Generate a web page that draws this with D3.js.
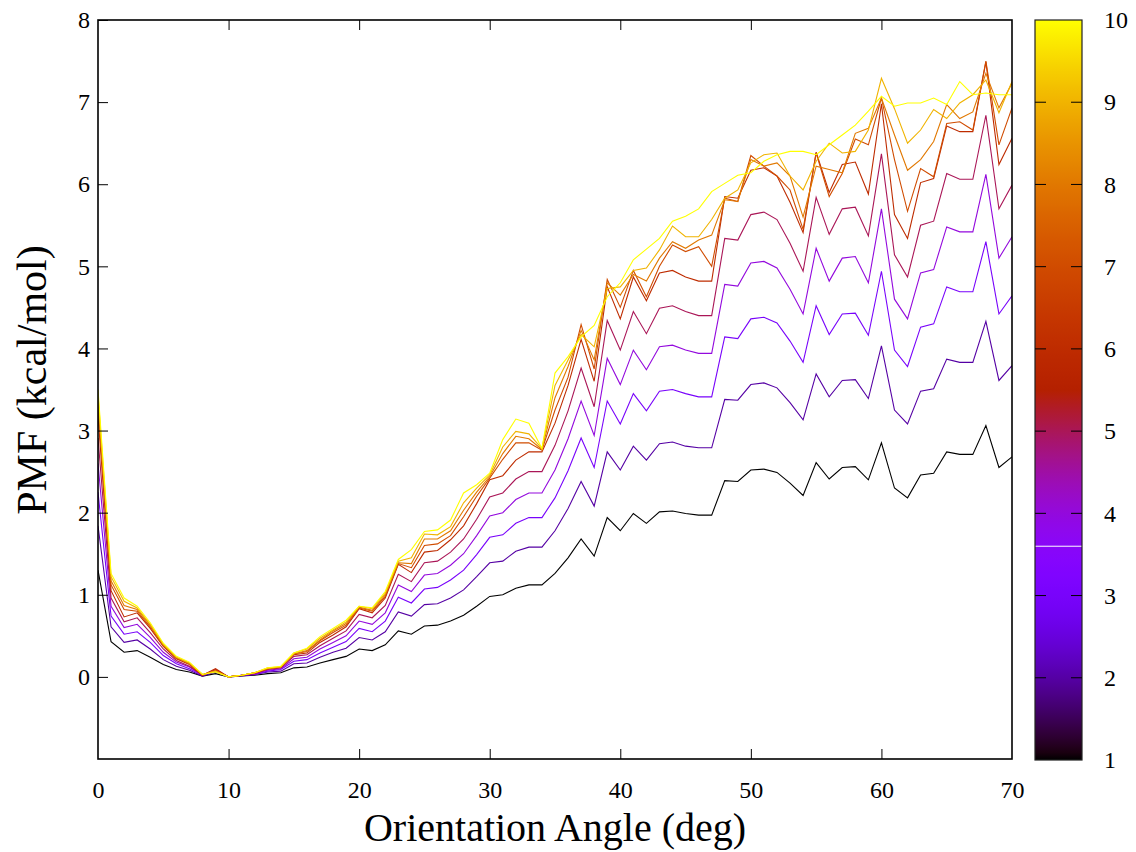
<!DOCTYPE html>
<html>
<head>
<meta charset="utf-8">
<script src="https://cdn.jsdelivr.net/npm/d3@7"></script>
<style>
html,body{margin:0;padding:0;background:#fff;}
svg{display:block;}
text{font-family:"Liberation Serif","Times New Roman",serif;fill:#000;}
</style>
</head>
<body>
<svg id="chart" width="1136" height="852"></svg>
<script>
// ---------------- data ----------------
const angles = [0,1,2,3,4,5,6,7,8,9,10,11,12,13,14,15,16,17,18,19,20,21,22,23,24,25,26,27,28,29,30,31,32,33,34,35,36,37,38,39,40,41,42,43,44,45,46,47,48,49,50,51,52,53,54,55,56,57,58,59,60,61,62,63,64,65,66,67,68,69,70];

const pmf1 = [1.30,0.43,0.30,0.32,0.24,0.15,0.09,0.06,0.01,0.04,0.00,0.01,0.02,0.04,0.05,0.11,0.12,0.17,0.21,0.25,0.34,0.32,0.39,0.56,0.52,0.62,0.63,0.68,0.75,0.86,0.98,1.00,1.08,1.12,1.12,1.26,1.45,1.68,1.47,1.94,1.78,1.99,1.87,2.01,2.02,1.99,1.97,1.97,2.39,2.38,2.52,2.53,2.49,2.36,2.21,2.61,2.41,2.55,2.56,2.40,2.85,2.30,2.18,2.46,2.48,2.74,2.71,2.71,3.06,2.55,2.68];
const pmf2 = [1.84,0.61,0.42,0.45,0.34,0.21,0.13,0.08,0.01,0.06,0.00,0.01,0.03,0.06,0.07,0.16,0.17,0.24,0.30,0.35,0.48,0.45,0.55,0.79,0.74,0.88,0.89,0.96,1.06,1.22,1.39,1.41,1.53,1.58,1.58,1.78,2.05,2.38,2.08,2.74,2.52,2.81,2.64,2.84,2.86,2.81,2.79,2.79,3.38,3.37,3.56,3.58,3.52,3.34,3.13,3.69,3.41,3.61,3.62,3.39,4.03,3.25,3.08,3.48,3.51,3.87,3.83,3.83,4.33,3.61,3.79];
const pmf3 = [2.25,0.74,0.52,0.55,0.42,0.26,0.16,0.10,0.02,0.07,0.00,0.02,0.03,0.07,0.09,0.19,0.21,0.29,0.36,0.43,0.59,0.55,0.68,0.97,0.90,1.07,1.09,1.18,1.30,1.49,1.70,1.73,1.87,1.94,1.94,2.18,2.51,2.91,2.55,3.36,3.08,3.45,3.24,3.48,3.50,3.45,3.41,3.41,4.14,4.12,4.36,4.38,4.31,4.09,3.83,4.52,4.17,4.42,4.43,4.16,4.94,3.98,3.78,4.26,4.30,4.75,4.69,4.69,5.30,4.42,4.64];
const pmf4 = [2.60,0.86,0.60,0.64,0.48,0.30,0.18,0.12,0.02,0.08,0.00,0.02,0.04,0.08,0.10,0.22,0.24,0.34,0.42,0.50,0.68,0.64,0.78,1.12,1.04,1.24,1.26,1.36,1.50,1.72,1.96,2.00,2.16,2.24,2.24,2.52,2.90,3.36,2.94,3.88,3.56,3.98,3.74,4.02,4.04,3.98,3.94,3.94,4.78,4.76,5.04,5.06,4.98,4.72,4.42,5.22,4.82,5.10,5.12,4.80,5.70,4.60,4.36,4.92,4.96,5.48,5.42,5.42,6.12,5.10,5.36];
const pmf5 = [2.91,0.96,0.67,0.72,0.54,0.34,0.20,0.13,0.02,0.09,0.00,0.02,0.04,0.09,0.11,0.25,0.27,0.38,0.47,0.56,0.76,0.72,0.87,1.25,1.16,1.39,1.41,1.52,1.68,1.92,2.19,2.24,2.41,2.50,2.50,2.82,3.24,3.76,3.29,4.34,3.98,4.45,4.18,4.49,4.52,4.45,4.40,4.40,5.34,5.32,5.63,5.66,5.57,5.28,4.94,5.84,5.39,5.70,5.72,5.37,6.37,5.14,4.87,5.50,5.55,6.13,6.06,6.06,6.84,5.70,5.99];
const pmf6 = [3.18,1.05,0.73,0.78,0.59,0.37,0.22,0.15,0.02,0.10,0.00,0.02,0.05,0.10,0.12,0.27,0.29,0.42,0.51,0.61,0.83,0.78,0.96,1.37,1.27,1.52,1.54,1.67,1.84,2.11,2.40,2.45,2.64,2.74,2.74,3.09,3.55,4.11,3.60,4.75,4.36,4.87,4.58,4.92,4.95,4.87,4.82,4.82,5.85,5.83,6.17,6.20,6.10,5.78,5.41,6.39,5.90,6.24,6.27,5.88,6.98,5.63,5.34,6.02,6.07,6.71,6.64,6.64,7.49,6.24,6.56];
const pmf7 = [3.30,1.12,0.82,0.80,0.61,0.38,0.23,0.16,0.02,0.08,0.00,0.02,0.05,0.10,0.12,0.28,0.31,0.44,0.54,0.63,0.84,0.80,0.98,1.38,1.33,1.60,1.62,1.72,1.95,2.20,2.42,2.65,2.85,2.85,2.76,3.25,3.65,4.29,3.75,4.84,4.50,4.95,4.63,5.00,5.26,5.18,5.24,5.00,5.83,5.79,6.35,6.22,6.10,5.93,5.45,6.38,5.85,6.13,6.55,6.48,7.05,6.30,5.67,6.19,6.09,6.74,6.76,6.66,7.50,6.48,6.93];
const pmf8 = [3.38,1.17,0.87,0.82,0.63,0.39,0.24,0.16,0.03,0.07,0.00,0.02,0.05,0.10,0.12,0.28,0.32,0.45,0.56,0.65,0.85,0.81,1.00,1.39,1.38,1.68,1.68,1.78,2.03,2.25,2.44,2.72,2.93,2.90,2.77,3.40,3.78,4.22,3.86,4.80,4.65,4.90,4.82,5.10,5.30,5.22,5.32,5.38,5.81,5.79,6.30,6.22,6.26,6.10,5.60,6.22,6.18,6.14,6.62,6.68,7.05,6.60,6.17,6.30,6.52,6.97,6.80,6.88,7.35,6.93,7.23];
const pmf9 = [3.44,1.22,0.92,0.84,0.64,0.40,0.24,0.17,0.03,0.07,0.00,0.02,0.05,0.11,0.12,0.29,0.34,0.47,0.57,0.67,0.86,0.83,1.02,1.41,1.45,1.74,1.73,1.83,2.12,2.30,2.46,2.80,2.99,2.96,2.78,3.55,3.86,4.17,4.02,4.73,4.75,4.95,4.98,5.20,5.49,5.36,5.36,5.57,5.83,5.93,6.26,6.36,6.38,6.10,5.93,6.28,6.50,6.38,6.40,6.66,7.29,6.92,6.50,6.66,6.91,6.80,6.99,7.09,7.27,6.87,7.25];
const pmf10 = [3.50,1.26,0.96,0.86,0.66,0.41,0.25,0.18,0.03,0.06,0.00,0.02,0.05,0.11,0.13,0.29,0.35,0.49,0.59,0.69,0.86,0.84,1.04,1.43,1.55,1.77,1.79,1.91,2.24,2.34,2.48,2.89,3.14,3.09,2.78,3.70,3.90,4.14,4.28,4.63,4.80,5.08,5.21,5.34,5.55,5.61,5.70,5.91,6.01,6.11,6.14,6.28,6.36,6.40,6.40,6.36,6.48,6.60,6.72,6.89,7.07,6.95,6.99,6.99,7.05,6.97,7.25,7.09,7.11,7.09,7.09];

const seriesLevels = [1,2,3,4,5,6,7,8,9,10];
const xTicks = [0,10,20,30,40,50,60,70];
const yTicks = [0,1,2,3,4,5,6,7,8];
const cbTicks = [1,2,3,4,5,6,7,8,9,10];
const xLabel = "Orientation Angle (deg)";
const yLabel = "PMF (kcal/mol)";

const allSeries = [pmf1,pmf2,pmf3,pmf4,pmf5,pmf6,pmf7,pmf8,pmf9,pmf10];

// ---------------- layout ----------------
const L = 98, R = 1012, T = 20, B = 759;
const CBL = 1035, CBR = 1082, CBT = 20, CBB = 760;

// gnuplot "traditional pm3d" palette (rgbformulae 7,5,15)
function palette(t){
  const r = Math.sqrt(t), g = t*t*t, b = Math.max(0, Math.min(1, Math.sin(2*Math.PI*t)));
  return d3.rgb(Math.round(r*255), Math.round(g*255), Math.round(b*255)).formatHex();
}

const svg = d3.select("#chart");
const x = d3.scaleLinear().domain([0,70]).range([L,R]);
const y = d3.scaleLinear().domain([-1,8]).range([B,T]);
const cb = d3.scaleLinear().domain([1,10]).range([CBB,CBT]);
const cbNorm = d3.scaleLinear().domain([1,10]).range([0,1]);

svg.append("rect").attr("width",1136).attr("height",852).attr("fill","#fff");

svg.append("defs").append("clipPath").attr("id","plotclip")
  .append("rect").attr("x",L).attr("y",T).attr("width",R-L).attr("height",B-T);

// lines
const line = d3.line().x((d,i)=>x(angles[i])).y(d=>y(d));
const g = svg.append("g").attr("clip-path","url(#plotclip)");
allSeries.forEach((vals,i)=>{
  g.append("path").datum(vals)
    .attr("d",line)
    .attr("fill","none")
    .attr("stroke",palette(cbNorm(seriesLevels[i])))
    .attr("stroke-width",1.1)
    .attr("stroke-linejoin","miter");
});

// axes
const xAxis = d3.axisBottom(x).tickValues(xTicks).tickSizeInner(-10).tickSizeOuter(0).tickPadding(22).tickFormat(d3.format("d"));
const gx = svg.append("g").attr("transform",`translate(0,${B})`).call(xAxis);
const xTop = d3.axisTop(x).tickValues(xTicks.filter(v=>v>0 && v<70)).tickSizeInner(-10).tickSizeOuter(0).tickFormat("");
const gxt = svg.append("g").attr("transform",`translate(0,${T})`).call(xTop);
const yAxis = d3.axisLeft(y).tickValues(yTicks).tickSizeInner(-10).tickSizeOuter(0).tickPadding(8).tickFormat(d3.format("d"));
const gy = svg.append("g").attr("transform",`translate(${L},0)`).call(yAxis);
[gx,gxt,gy].forEach(a=>{
  a.select(".domain").remove();
  a.selectAll(".tick line").attr("stroke","#000").attr("stroke-width",1);
  a.selectAll(".tick text").style("font-family","'Liberation Serif', serif").style("font-size","24px").attr("fill","#000");
});
gx.selectAll(".tick").filter(d=>d===0||d===70).select("line").remove();

// frame
svg.append("rect").attr("x",L).attr("y",T).attr("width",R-L).attr("height",B-T)
  .attr("fill","none").attr("stroke","#000").attr("stroke-width",1.6);

// colorbar gradient
const grad = svg.select("defs").append("linearGradient").attr("id","cbgrad")
  .attr("x1",0).attr("y1",1).attr("x2",0).attr("y2",0);
d3.range(0,101).forEach(i=>{
  grad.append("stop").attr("offset",(i/100)).attr("stop-color",palette(i/100));
});
svg.append("rect").attr("x",CBL).attr("y",CBT).attr("width",CBR-CBL).attr("height",CBB-CBT)
  .attr("fill","url(#cbgrad)");
svg.append("line").attr("x1",CBL).attr("x2",CBR).attr("y1",cb(3.6)).attr("y2",cb(3.6))
  .attr("stroke","#fff").attr("stroke-width",1);
svg.append("rect").attr("x",CBL).attr("y",CBT).attr("width",CBR-CBL).attr("height",CBB-CBT)
  .attr("fill","none").attr("stroke","#222").attr("stroke-width",1.2);
cbTicks.filter(v=>v>1 && v<10).forEach(v=>{
  svg.append("line").attr("x1",CBL).attr("x2",CBL+11).attr("y1",cb(v)).attr("y2",cb(v)).attr("stroke","#000").attr("stroke-width",1);
  svg.append("line").attr("x1",CBR-11).attr("x2",CBR).attr("y1",cb(v)).attr("y2",cb(v)).attr("stroke","#000").attr("stroke-width",1);
});
const cbAxis = d3.axisRight(cb).tickValues(cbTicks).tickSize(0).tickPadding(22).tickFormat(d3.format("d"));
const gcb = svg.append("g").attr("transform",`translate(${CBR},0)`).call(cbAxis);
gcb.select(".domain").remove();
gcb.selectAll(".tick text").style("font-family","'Liberation Serif', serif").style("font-size","24px").attr("fill","#000");

// axis titles
svg.append("text").attr("x",555).attr("y",841).attr("text-anchor","middle")
  .style("font-size","40px").text(xLabel);
svg.append("text").attr("transform",`translate(46,380) rotate(-90)`).attr("text-anchor","middle")
  .style("font-size","42px").text(yLabel);
</script>
</body>
</html>
